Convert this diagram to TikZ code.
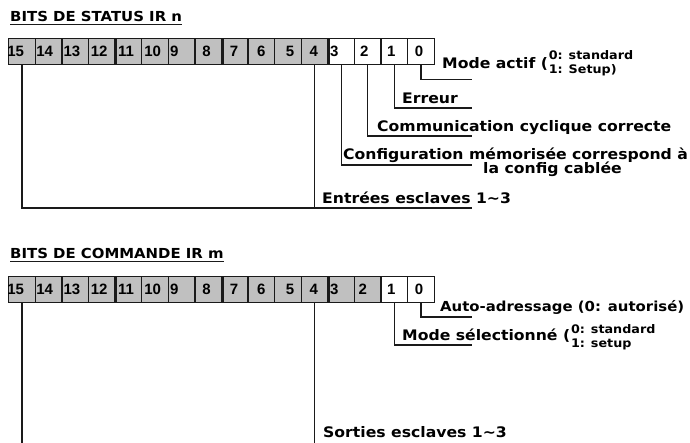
\documentclass[tikz,border=0pt]{standalone}
\usepackage{fontspec}
\setmainfont{DejaVu Sans}[FakeStretch=1.08]
\newfontfamily\digitfont{Liberation Sans}
\definecolor{regray}{HTML}{C0C0C0}
\definecolor{ink}{HTML}{1A1A1A}
\begin{document}
\begin{tikzpicture}[x=1pt,y=-1pt,
  cell/.style={draw=ink, line width=1.4pt, minimum width=26.6pt, minimum height=26pt,
               inner sep=0pt, anchor=north west},
  digit/.style={font=\digitfont\bfseries\fontsize{15}{15}\selectfont, inner sep=0pt, anchor=center},
  lbl/.style={font=\bfseries\fontsize{14.5}{16}\selectfont, inner sep=0pt, anchor=base west},
  sub/.style={font=\bfseries\fontsize{11.8}{14}\selectfont, inner sep=0pt, anchor=base west},
  head/.style={font=\bfseries\fontsize{13.8}{15}\selectfont, inner sep=0pt, anchor=base west},
  lead/.style={line width=1.3pt, draw=ink},
  nibble/.style={line width=2.6pt, draw=ink},
  uline/.style={line width=1.8pt, draw=ink}]
\useasboundingbox (0,0) rectangle (690,442);

% ---------------- status word ----------------
\node[head] (t1) at (10,21) {BITS DE STATUS IR n};
\draw[uline] ([yshift=-3.5pt]t1.base west) -- ([yshift=-3.5pt]t1.base east);

\foreach \b/\o/\f in {15/7.7/regray,14/10/regray,13/10.7/regray,12/11.3/regray,
                      11/11.7/regray,10/11.7/regray,9/6.7/regray,8/12.3/regray,
                      7/13.3/regray,6/14/regray,5/16/regray,4/13.3/regray,
                      3/7/white,2/10.5/white,1/11/white,0/12/white}{
  \node[cell, fill=\f] (s\b) at ({8+(15-\b)*26.6},38) {};
  \node[digit] (sd\b) at ([xshift=\o pt]s\b.west) {\b};
}
\foreach \b in {12,8,4}{\draw[nibble] (s\b.north east) -- (s\b.south east);}

\coordinate (se0) at (472,79.5);
\coordinate (se1) at (472,108);
\coordinate (se2) at (472,136);
\coordinate (se3) at (472,165);
\coordinate (se4) at (472,208);
\draw[lead] (s0.south) |- (se0);
\draw[lead] (s1.south) |- (se1);
\draw[lead] (s2.south) |- (se2);
\draw[lead] (s3.south) |- (se3);
\draw[lead] (s15.south) |- (se4);
\draw[lead] (s4.south) -- (s4.south |- se4);

\node[lbl] (m0) at (442,68) {Mode actif (};
\node[sub] (m0a) at ([xshift=0.5pt]m0.base east |- 0,59) {0: standard};
\node[sub] (m0b) at (m0a.base west |- 0,73) {1: Setup)};
\node[lbl] (m1) at (402,103) {Erreur};
\node[lbl] (m2) at (377,131) {Communication cyclique correcte};
\node[lbl] (m3) at (343,159) {Configuration mémorisée correspond à};
\node[lbl] (m3b) at (483,173) {la config cablée};
\node[lbl] (m4) at (322,203) {Entrées esclaves 1\char"7E 3};

% ---------------- command word ----------------
\node[head] (t2) at (10,258) {BITS DE COMMANDE IR m};
\draw[uline] ([yshift=-3.5pt]t2.base west) -- ([yshift=-3.5pt]t2.base east);

\foreach \b/\o/\f in {15/7.7/regray,14/10/regray,13/10.7/regray,12/11.3/regray,
                      11/11.7/regray,10/11.7/regray,9/6.7/regray,8/12.3/regray,
                      7/13.3/regray,6/14/regray,5/16/regray,4/13.3/regray,
                      3/7/regray,2/9/regray,1/11/white,0/12/white}{
  \node[cell, fill=\f] (c\b) at ({8+(15-\b)*26.6},276) {};
  \node[digit] (cd\b) at ([xshift=\o pt]c\b.west) {\b};
}
\foreach \b in {12,8,4}{\draw[nibble] (c\b.north east) -- (c\b.south east);}

\coordinate (ce0) at (472,317);
\coordinate (ce1) at (472,345);
\coordinate (cb) at (0,443);
\draw[lead] (c0.south) |- (ce0);
\draw[lead] (c1.south) |- (ce1);
\draw[lead] (c4.south) -- (c4.south |- cb);
\draw[lead] (c15.south) -- (c15.south |- cb);

\node[lbl, font=\bfseries\fontsize{13.8}{16}\selectfont] (n0) at (440,311) {Auto-adressage (0: autorisé)};
\node[lbl] (n1) at (402,340.5) {Mode sélectionné (};
\node[sub] (n1a) at ([xshift=0.5pt]n1.base east |- 0,333) {0: standard};
\node[sub] (n1b) at (n1a.base west |- 0,347) {1: setup};
\node[lbl] (n4) at (323,437) {Sorties esclaves 1\char"7E 3};
\end{tikzpicture}
\end{document}
